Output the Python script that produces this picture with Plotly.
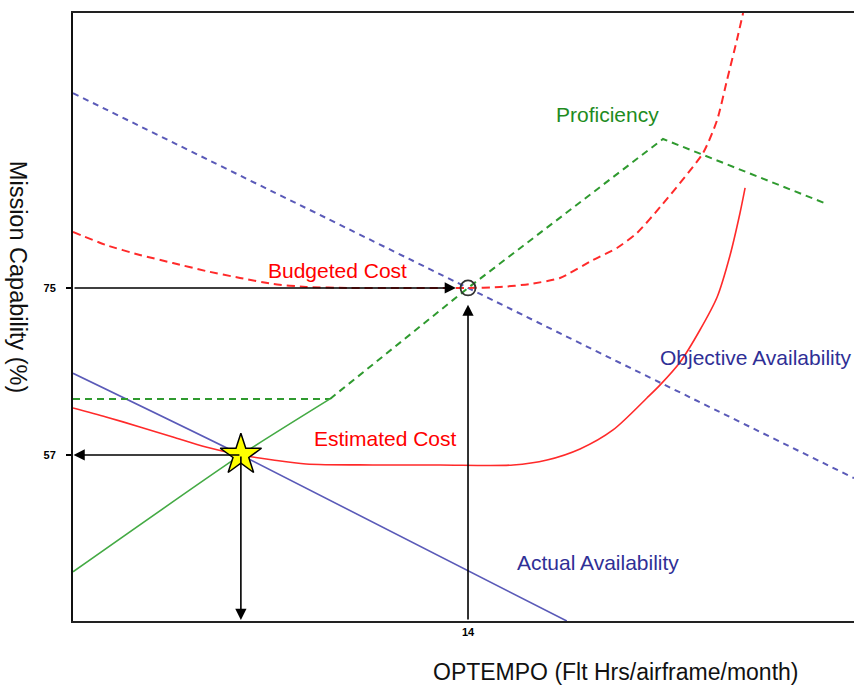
import plotly.graph_objects as go

# ---- data ----
obj_avail_x = [0, 14, 27.68]
obj_avail_y = [96.0, 75.0, 54.5]

act_avail_x = [0, 5.95, 17.5]
act_avail_y = [65.8, 57.0, 39.1]

prof_solid_x = [0, 5.95, 9.11]
prof_solid_y = [44.4, 57.0, 63.04]
prof_dash_x = [9.11, 14, 20.91, 26.72]
prof_dash_y = [63.04, 75.0, 91.06, 84.05]
prof_base_x = [0, 9.11]
prof_base_y = [63.04, 63.04]

budget_x = [0, 1.17, 2.37, 3.54, 4.71, 5.92, 7.09, 8.26, 9.82, 11.59, 14, 15.13, 16.2,
            17.26, 18.43, 19.28, 19.99, 20.81, 22.33, 22.83, 23.18, 23.53, 23.75]
budget_y = [81.04, 79.63, 78.56, 77.69, 76.83, 76.08, 75.43, 75.11, 75.0, 75.0, 75.0, 75.1, 75.43,
            76.08, 78.02, 79.31, 80.93, 83.73, 89.55, 93.11, 97.42, 101.73, 104.64]

est_x = [0, 1.17, 2.37, 3.54, 4.71, 5.95, 7.09, 8.26, 10.63, 13.01, 15.6, 16.8, 17.97,
         19.14, 20.34, 20.81, 21.52, 22.22, 22.83, 23.29, 23.64, 23.82]
est_y = [62.07, 61.10, 60.02, 58.94, 57.86, 57.0, 56.46, 56.03, 55.92, 55.92, 55.92, 56.46, 57.65,
         59.70, 63.14, 64.55, 67.02, 70.47, 74.03, 78.56, 83.08, 85.78]

star_x, star_y = 5.95, 57.0      # actual operating point
target_x, target_y = 14, 75.0    # budgeted operating point

x_ticks = [14]
x_ticklabels = ["14"]
y_ticks = [57, 75]
y_ticklabels = ["57", "75"]

X_RANGE = [0, 27.68]
Y_RANGE = [39.1, 104.64]

RED = "#ff2a2a"
GREEN_D = "#2f9a2f"
GREEN_S = "#44aa44"
BLUE = "#5a5ab8"
NAVY = "#2f2f96"
FONT = "Liberation Sans, Arial, sans-serif"

fig = go.Figure()

def line(x, y, color, dash=None, width=1.6, smooth=0.6):
    fig.add_trace(go.Scatter(x=x, y=y, mode="lines", showlegend=False, hoverinfo="skip",
                             line=dict(color=color, width=width, dash=dash, shape="spline", smoothing=smooth)))

line(obj_avail_x, obj_avail_y, BLUE, "6px,5px", 2)
line(act_avail_x, act_avail_y, BLUE, None, 1.6)
line(prof_base_x, prof_base_y, GREEN_D, "7px,5px", 2)
line(prof_solid_x, prof_solid_y, GREEN_S, None, 1.6)
fig.add_trace(go.Scatter(x=prof_dash_x, y=prof_dash_y, mode="lines", showlegend=False, hoverinfo="skip",
                         line=dict(color=GREEN_D, width=2, dash="7px,5px")))
line(budget_x, budget_y, RED, "8px,5px", 2)
line(est_x, est_y, RED, None, 1.6, 0.8)

# arrows
arrows = [
    dict(x=13.57, y=target_y, ax=0, ay=target_y),          # to the right toward circle
    dict(x=target_x, y=73.2, ax=target_x, ay=Y_RANGE[0]),  # upward toward circle
    dict(x=0.02, y=star_y, ax=star_x, ay=star_y),          # left from star
    dict(x=star_x, y=39.2, ax=star_x, ay=star_y),          # down from star
]
for a in arrows:
    fig.add_annotation(x=a["x"], y=a["y"], ax=a["ax"], ay=a["ay"], xref="x", yref="y",
                       axref="x", ayref="y", text="", showarrow=True, arrowhead=2,
                       arrowsize=1.4, arrowwidth=1.6, arrowcolor="black")

fig.add_trace(go.Scatter(x=[target_x], y=[target_y], mode="markers", showlegend=False, hoverinfo="skip",
                         marker=dict(symbol="circle-open", size=15, color="#333", line=dict(width=1.8))))
fig.add_trace(go.Scatter(x=[star_x], y=[star_y], mode="markers", showlegend=False, hoverinfo="skip",
                         marker=dict(symbol="star", size=31, color="#ffff00",
                                     line=dict(color="black", width=1.5))))

labels = [
    ("Proficiency", 18.93, 93.65, "#1e8c1e"),
    ("Budgeted Cost", 9.36, 76.83, "#ff0000"),
    ("Objective Availability", 24.21, 67.46, NAVY),
    ("Estimated Cost", 11.09, 58.72, "#ff0000"),
    ("Actual Availability", 18.61, 45.36, NAVY),
]
for t, x, y, c in labels:
    fig.add_annotation(x=x, y=y, xref="x", yref="y", text=t, showarrow=False,
                       font=dict(family=FONT, size=21, color=c))

fig.add_annotation(text="OPTEMPO (Flt Hrs/airframe/month)", xref="paper", yref="paper",
                   x=0.694, y=-0.084, showarrow=False, xanchor="center", yanchor="middle",
                   font=dict(family=FONT, size=23, color="#111"))
fig.add_annotation(text="Mission Capability (%)", xref="paper", yref="paper",
                   x=-0.0704, y=0.566, textangle=90, showarrow=False, xanchor="center", yanchor="middle",
                   font=dict(family=FONT, size=23.5, color="#111"))

fig.update_layout(
    width=854, height=688,
    margin=dict(l=73, r=0, t=13, b=67),
    plot_bgcolor="white", paper_bgcolor="white",
    showlegend=False,
    xaxis=dict(range=X_RANGE, tickvals=x_ticks, ticktext=x_ticklabels, showgrid=False, zeroline=False,
               showline=True, linecolor="#222", linewidth=2, mirror=True, ticks="",
               tickfont=dict(family=FONT, size=11, color="black", weight="bold")),
    yaxis=dict(range=Y_RANGE, tickvals=y_ticks, ticktext=y_ticklabels, showgrid=False, zeroline=False,
               showline=True, linecolor="#111", linewidth=2, ticks="outside", ticklen=5,
               tickcolor="black", tickwidth=1.5, ticklabelstandoff=8,
               tickfont=dict(family=FONT, size=11, color="black", weight="bold")),
)

fig.write_html("out.html", config={"displayModeBar": False},
               post_script="document.body.style.margin='0';document.body.style.overflow='hidden';")
